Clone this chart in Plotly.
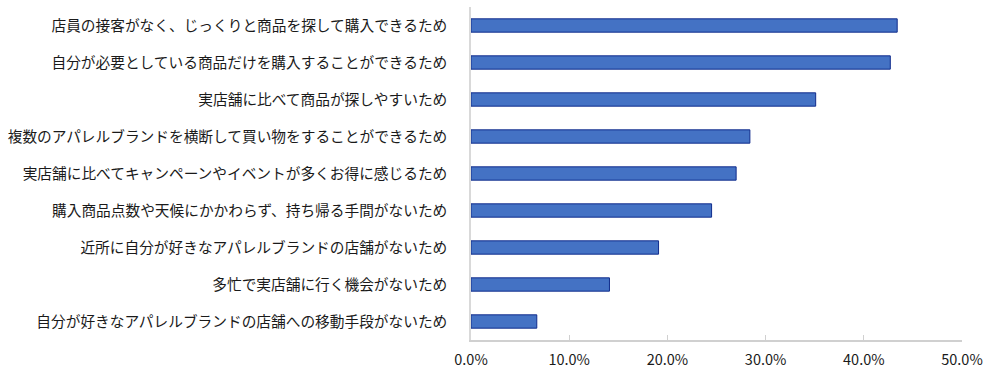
import plotly.graph_objects as go

categories = [
    "店員の接客がなく、じっくりと商品を探して購入できるため",
    "自分が必要としている商品だけを購入することができるため",
    "実店舗に比べて商品が探しやすいため",
    "複数のアパレルブランドを横断して買い物をすることができるため",
    "実店舗に比べてキャンペーンやイベントが多くお得に感じるため",
    "購入商品点数や天候にかかわらず、持ち帰る手間がないため",
    "近所に自分が好きなアパレルブランドの店舗がないため",
    "多忙で実店舗に行く機会がないため",
    "自分が好きなアパレルブランドの店舗への移動手段がないため",
]
values = [0.434, 0.427, 0.351, 0.284, 0.270, 0.245, 0.191, 0.141, 0.067]
tick_vals = [0, 0.1, 0.2, 0.3, 0.4, 0.5]
tick_text = ["0.0%", "10.0%", "20.0%", "30.0%", "40.0%", "50.0%"]

fig = go.Figure(go.Bar(
    x=values, y=categories, orientation="h",
    marker=dict(color="#4472C4", line=dict(color="#102C8C", width=1)),
    width=0.36,
))

font_family = "Noto Sans CJK JP, Noto Sans, sans-serif"
fig.update_layout(
    width=1000, height=379,
    margin=dict(l=471, r=38, t=7, b=39),
    paper_bgcolor="white", plot_bgcolor="white",
    font=dict(family=font_family, size=14.7, color="#1a1a1a"),
    showlegend=False,
    xaxis=dict(
        range=[0, 0.5], tickvals=tick_vals, ticktext=tick_text,
        showgrid=False, zeroline=False, automargin=False,
        showline=True, linecolor="#d0d0d0", linewidth=1.5,
        ticks="inside", ticklen=5, tickcolor="#d0d0d0",
        ticklabelstandoff=6,
        tickfont=dict(size=14.5, family="Noto Sans CJK JP, sans-serif"),
        fixedrange=True,
    ),
    yaxis=dict(
        autorange="reversed", automargin=False,
        showgrid=False, zeroline=False,
        showline=True, linecolor="#d9d9d9", linewidth=1.5,
        ticks="", ticklabelstandoff=19,
        tickfont=dict(size=14.7),
    ),
)

fig.write_html("out.html", config={"displayModeBar": False},
               post_script="document.body.style.margin='0';")
